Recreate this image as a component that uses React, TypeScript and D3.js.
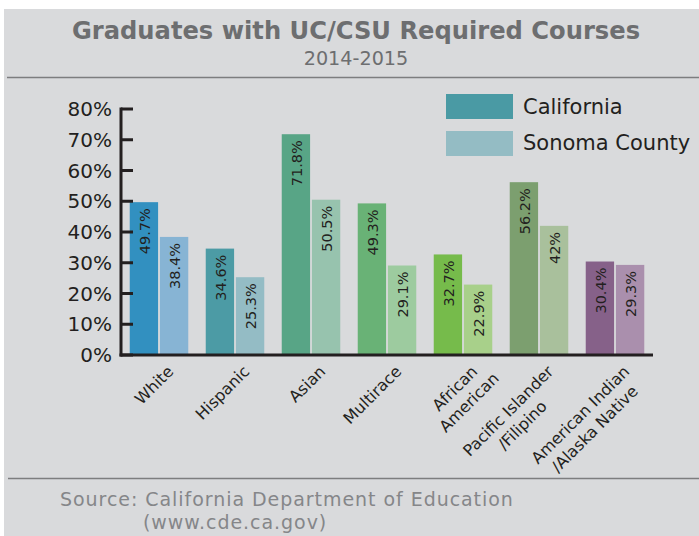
import React from "react";
import * as d3 from "d3";

const categories = [
  ["White"],
  ["Hispanic"],
  ["Asian"],
  ["Multirace"],
  ["African", "American"],
  ["Pacific Islander", "/Filipino"],
  ["American Indian", "/Alaska Native"],
];
const seriesNames = ["California", "Sonoma County"];
const california = [49.7, 34.6, 71.8, 49.3, 32.7, 56.2, 30.4];
const sonoma = [38.4, 25.3, 50.5, 29.1, 22.9, 42.0, 29.3];
const californiaLabels = ["49.7%", "34.6%", "71.8%", "49.3%", "32.7%", "56.2%", "30.4%"];
const sonomaLabels = ["38.4%", "25.3%", "50.5%", "29.1%", "22.9%", "42%", "29.3%"];
const yTicks = [0, 10, 20, 30, 40, 50, 60, 70, 80];

const caColors = ["#3290c0", "#4c9ba5", "#58a586", "#69b276", "#76bb4b", "#7c9f6f", "#866189"];
const soColors = ["#87b4d4", "#94bcc5", "#97c3ae", "#9dcb9f", "#a8d08a", "#a9c09c", "#aa8fad"];
const legendColors = ["#4a9aa4", "#94bcc4"];

const FONT = "'DejaVu Sans', sans-serif";

let canvas: HTMLCanvasElement | null = null;
function measure(text: string, size: number): number {
  if (!canvas) canvas = document.createElement("canvas");
  const ctx = canvas.getContext("2d")!;
  ctx.font = `${size}px 'DejaVu Sans'`;
  return ctx.measureText(text).width;
}

export default function App() {
  const W = 699;
  const H = 536;
  const keys = categories.map((c) => c.join(" "));
  const x = d3.scaleBand<string>().domain(keys).range([121, 653]).paddingInner(0.23).paddingOuter(0.115);
  const xs = d3.scaleBand<string>().domain(seriesNames).range([0, x.bandwidth()]).paddingInner(0.06);
  const y = d3.scaleLinear().domain([0, 80]).range([355, 109]);
  const labelSize = 14.5;

  return (
    <svg width={W} height={H} style={{ position: "absolute", left: 0, top: 0 }} fontFamily={FONT}>
      <rect x={0} y={0} width={W} height={H} fill="#ffffff" />
      <rect x={4} y={9} width={W - 4} height={H - 9} fill="#d9dadc" />
      <text x={356} y={39} textAnchor="middle" fontSize={24.2} fontWeight={700} fill="#6d6e70">
        Graduates with UC/CSU Required Courses
      </text>
      <text x={356} y={65} textAnchor="middle" fontSize={19.2} fill="#6d6e70">
        2014-2015
      </text>
      <line x1={7} x2={W} y1={77.5} y2={77.5} stroke="#7d7d7f" strokeWidth={1.5} />
      <line x1={8} x2={W} y1={478.5} y2={478.5} stroke="#7d7d7f" strokeWidth={1.5} />

      {/* legend */}
      {seriesNames.map((s, i) => (
        <g key={s}>
          <rect x={446} y={94 + i * 37} width={67} height={25} fill={legendColors[i]} />
          <text x={523} y={114 + i * 36} fontSize={21} fill="#231f20">
            {s}
          </text>
        </g>
      ))}

      {/* bars */}
      {keys.map((k, i) => {
        const vals = [california[i], sonoma[i]];
        const labs = [californiaLabels[i], sonomaLabels[i]];
        const cols = [caColors[i], soColors[i]];
        return (
          <g key={k}>
            {seriesNames.map((s, j) => {
              const bx = (x(k) as number) + (xs(s) as number);
              const by = y(vals[j]);
              const bw = xs.bandwidth();
              return (
                <g key={s}>
                  <rect x={bx} y={by} width={bw} height={y(0) - by} fill={cols[j]} />
                  <text
                    transform={`translate(${bx + bw / 2 + 1},${by + 6}) rotate(-90)`}
                    textAnchor="end"
                    dy="0.35em"
                    fontSize={labelSize}
                    fill="#231f20"
                  >
                    {labs[j]}
                  </text>
                </g>
              );
            })}
          </g>
        );
      })}

      {/* y axis */}
      <line x1={121} x2={121} y1={y(80) - 1.5} y2={y(0) + 1.5} stroke="#231f20" strokeWidth={3} />
      {yTicks.map((t) => (
        <g key={t}>
          <line x1={121} x2={133} y1={y(t)} y2={y(t)} stroke="#231f20" strokeWidth={3} />
          <text x={112} y={y(t)} dy="0.36em" textAnchor="end" fontSize={20} fill="#231f20">
            {t}%
          </text>
        </g>
      ))}
      {/* x axis */}
      <line x1={119.5} x2={653} y1={y(0)} y2={y(0)} stroke="#231f20" strokeWidth={3} />

      {/* x labels */}
      {categories.map((lines, i) => {
        const cx = (x(keys[i]) as number) + x.bandwidth() / 2;
        const fs = 16;
        const w0 = measure(lines[0], fs);
        return (
          <g key={i} transform={`translate(${cx + 7},${364}) rotate(-45)`}>
            {lines.map((ln, li) => (
              <text
                key={li}
                x={li === 0 ? 0 : -w0 / 2}
                y={12 + li * 20}
                textAnchor={li === 0 ? "end" : "middle"}
                fontSize={fs}
                fill="#231f20"
              >
                {ln}
              </text>
            ))}
          </g>
        );
      })}

      {/* source */}
      <text x={60} y={506} fontSize={19} letterSpacing={0.95} fill="#858689">
        Source: California Department of Education
      </text>
      <text x={143} y={529} fontSize={19} letterSpacing={0.95} fill="#858689">
        (www.cde.ca.gov)
      </text>
    </svg>
  );
}
